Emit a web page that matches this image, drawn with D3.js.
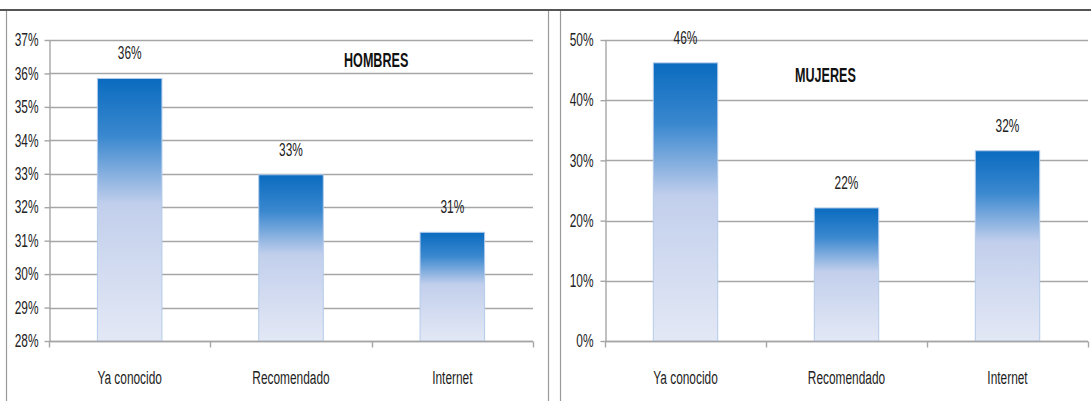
<!DOCTYPE html>
<html>
<head>
<meta charset="utf-8">
<script src="https://cdn.jsdelivr.net/npm/d3@7"></script>
<style>
  html, body { margin: 0; padding: 0; background: #fff; }
  svg { display: block; }
  text { font-family: "Liberation Sans", Arial, sans-serif; fill: #222; }
</style>
</head>
<body>
<svg id="chart" width="1091" height="401"></svg>
<script>
// Categories and values (percent) for each panel
const categories = ["Ya conocido", "Recomendado", "Internet"];
const hombresValues = [35.85, 32.97, 31.25];
const mujeresValues = [46.2, 22.1, 31.6];
const hombresTicks = [28, 29, 30, 31, 32, 33, 34, 35, 36, 37];
const mujeresTicks = [0, 10, 20, 30, 40, 50];

const svg = d3.select("#chart");
const pct = v => d3.format(".0f")(v) + "%";
const NARROW = 0.66;     // condensed look of the labels
const LABEL_SIZE = 18;
const TITLE_NARROW = 0.6;

// Vertical bar gradient: deep blue top fading to pale lavender
const defs = svg.append("defs");
const grad = defs.append("linearGradient")
  .attr("id", "barFill").attr("x1", 0).attr("y1", 0).attr("x2", 0).attr("y2", 1);
[["0%", "#0a6bbf"], ["22%", "#3a88cf"], ["48%", "#c2cfec"], ["100%", "#e3e8f5"]]
  .forEach(([o, c]) => grad.append("stop").attr("offset", o).attr("stop-color", c));

// Frames around the two panels
svg.append("line").attr("x1", 0).attr("x2", 1091).attr("y1", 10).attr("y2", 10)
  .attr("stroke", "#555").attr("stroke-width", 2);
[6.5, 548.5, 560.5].forEach(x =>
  svg.append("line").attr("x1", x).attr("x2", x).attr("y1", 11).attr("y2", 401)
    .attr("stroke", "#9a9a9a").attr("stroke-width", 1.2));

function narrowText(g, x, y, str, opts = {}) {
  return g.append("text")
    .attr("transform", `translate(${x},${y}) scale(${opts.sx || NARROW},1)`)
    .attr("text-anchor", opts.anchor || "middle")
    .style("font-size", (opts.size || LABEL_SIZE) + "px")
    .style("font-weight", opts.weight || "normal")
    .text(str);
}

function drawPanel(cfg) {
  const g = svg.append("g");
  const y = d3.scaleLinear().domain(cfg.domain).range([341, 40]);
  const x = d3.scaleBand().domain(categories).range([cfg.x0, cfg.x1])
    .paddingInner(0.6).paddingOuter(0.3);

  // Horizontal gridlines
  g.append("g").selectAll("line").data(cfg.ticks).join("line")
    .attr("x1", cfg.x0).attr("x2", cfg.x1)
    .attr("y1", d => Math.round(y(d)) + 0.5).attr("y2", d => Math.round(y(d)) + 0.5)
    .attr("stroke", "#a6a6a6").attr("stroke-width", 1.6);

  // Bars
  g.append("g").selectAll("rect").data(cfg.values).join("rect")
    .attr("x", (d, i) => x(categories[i]))
    .attr("width", x.bandwidth())
    .attr("y", d => y(d))
    .attr("height", d => y(cfg.domain[0]) - y(d))
    .attr("fill", "url(#barFill)")
    .attr("stroke", "#b3cbea").attr("stroke-width", 1);

  // Value labels above bars
  cfg.values.forEach((v, i) => {
    narrowText(g, x(categories[i]) + x.bandwidth() / 2, y(v) - 19, pct(v));
  });

  // Y axis
  const ya = g.append("g").attr("transform", `translate(${cfg.x0 + 0.5},0)`)
    .call(d3.axisLeft(y).tickValues(cfg.ticks).tickFormat(d => d + "%")
      .tickSize(5).tickSizeOuter(0));
  ya.select(".domain").attr("stroke", "#a6a6a6").attr("stroke-width", 1.4);
  ya.selectAll(".tick line").attr("stroke", "#a6a6a6").attr("stroke-width", 1.4);
  ya.selectAll(".tick text")
    .attr("x", -cfg.labelGap / NARROW)
    .attr("transform", `scale(${NARROW},1)`)
    .style("font-size", LABEL_SIZE + "px").attr("fill", "#222");

  // X axis: baseline, boundary ticks, category labels
  const base = Math.round(y(cfg.domain[0])) + 0.5;
  g.append("line").attr("x1", cfg.x0).attr("x2", cfg.x1).attr("y1", base).attr("y2", base)
    .attr("stroke", "#a6a6a6").attr("stroke-width", 1.6);
  d3.range(categories.length + 1).forEach(i => {
    const bx = Math.round(cfg.x0 + i * x.step()) + 0.5;
    g.append("line").attr("x1", bx).attr("x2", bx).attr("y1", base).attr("y2", base + 6)
      .attr("stroke", "#a6a6a6").attr("stroke-width", 1.4);
  });
  categories.forEach(c => narrowText(g, x(c) + x.bandwidth() / 2, 384, c));

  // Panel title
  narrowText(g, cfg.titleX, cfg.titleY, cfg.title,
    { size: 21, weight: "bold", sx: TITLE_NARROW, anchor: "start" })
    .style("fill", "#111");
}

drawPanel({ domain: [28, 37], ticks: hombresTicks, values: hombresValues,
  x0: 49, x1: 533, labelGap: 11, title: "HOMBRES", titleX: 344, titleY: 67 });
drawPanel({ domain: [0, 50], ticks: mujeresTicks, values: mujeresValues,
  x0: 605, x1: 1088, labelGap: 12, title: "MUJERES", titleX: 795, titleY: 82 });
</script>
</body>
</html>
